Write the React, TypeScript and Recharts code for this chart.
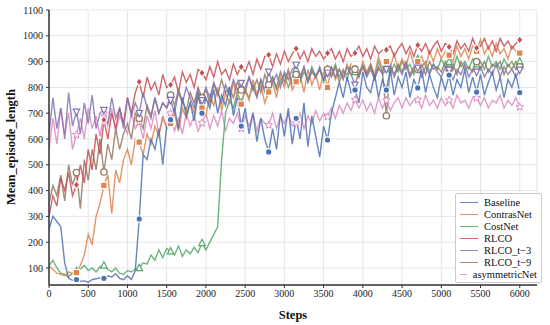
import { LineChart, Line, XAxis, YAxis, CartesianGrid } from 'recharts'

const steps = Array.from({ length: 121 }, (_, i) => i * 50)
const xTicks = [0, 500, 1000, 1500, 2000, 2500, 3000, 3500, 4000, 4500, 5000, 5500, 6000]
const yTicks = [100, 200, 300, 400, 500, 600, 700, 800, 900, 1000, 1100]
const markSteps = [350, 700, 1150, 1550, 1950, 2450, 2800, 3150, 3550, 3900, 4300, 4700, 5100, 5450, 6000]

const baseline = [
  250, 300, 280, 260, 120, 60, 52, 55, 48, 50,
  45, 55, 58, 62, 60, 70, 65, 78, 60, 55,
  70, 55, 90, 290, 540, 520, 600, 560, 640, 500,
  650, 675, 720, 640, 760, 690, 740, 670, 780, 700,
  760, 720, 790, 700, 770, 730, 800, 690, 760, 650,
  720, 620, 700, 590, 680, 600, 550, 640, 560, 700,
  610, 720, 580, 680, 600, 740, 570, 690, 610, 530,
  650, 596, 700, 760, 820, 760, 840, 780, 790, 740,
  860, 800, 780, 850, 760, 830, 790, 870, 770, 840,
  800, 860, 760, 830, 798, 870, 780, 850, 800, 760,
  840, 790, 848, 770, 830, 800, 870, 780, 840, 782,
  850, 770, 820, 860, 790, 840, 760, 830, 800, 850,
  780,
]
const contrasNet = [
  110, 95, 80, 75, 70, 85, 78, 82, 110, 150,
  230, 190, 300, 350, 420, 460, 310, 480, 430, 520,
  560, 500, 600, 588, 540, 620, 580, 650, 610, 690,
  640, 660, 700, 630, 720, 680, 740, 700, 760, 720,
  690, 770, 730, 800, 710, 780, 740, 820, 760, 735,
  790, 750, 830, 770, 810, 740, 782, 820, 760, 840,
  800, 860, 790, 822, 850, 780, 870, 810, 850, 790,
  860, 800, 880, 830, 870, 840, 890, 850, 875, 840,
  900, 860, 890, 850, 920, 870, 900, 880, 930, 870,
  910, 880, 940, 890, 900, 920, 880, 940, 900, 950,
  910, 940, 925, 900, 960, 920, 950, 910, 960, 940,
  985, 930, 960, 920, 970, 930, 950, 910, 960, 940,
  933,
]
const costNet = [
  110, 130, 100, 80, 75, 65, 80, 88, 95, 110,
  90, 100, 85, 105, 110, 95, 85, 100, 80, 75,
  90, 85, 95, 100, 120, 115, 150, 130, 170, 140,
  175, 165, 150, 185, 145, 170, 155, 180, 160, 197,
  170, 200, 230, 260, 520, 700, 750, 720, 780, 740,
  790, 760, 810, 770, 830, 780, 800, 840, 790, 820,
  850, 800, 840, 870, 820, 860, 830, 880, 840, 870,
  820, 870, 850, 890, 840, 870, 830, 880, 860, 850,
  890, 850, 880, 840, 900, 860, 880, 850, 890, 860,
  900, 870, 890, 850, 910, 880, 900, 860, 890, 870,
  910, 880, 900, 870, 920, 880, 900, 870, 910, 890,
  900, 870, 920, 880, 900, 870, 910, 880, 900, 870,
  900,
]
const rlco = [
  300, 380, 340, 450, 400, 470, 380, 422, 500, 430,
  560, 480, 620, 540, 674, 600, 700, 640, 720, 660,
  760, 700, 780, 821, 760, 840, 790, 820, 770, 850,
  800, 810, 840, 780, 860, 820, 850, 800, 870, 856,
  830, 880, 840, 900, 850, 870, 830, 890, 850, 880,
  860, 900, 850, 910, 870, 920, 926, 880, 930, 890,
  940, 900, 930, 950, 910, 940, 900, 950, 920, 940,
  910, 933, 950, 910, 940, 900, 950, 920, 933, 960,
  920, 950, 910, 960, 930, 945, 945, 960, 920, 950,
  970, 930, 960, 920, 964, 940, 970, 930, 960, 980,
  940, 970, 957, 930, 980, 950, 970, 940, 990, 953,
  960, 990, 950, 980, 940, 990, 960, 980, 950, 970,
  984,
]
const rlcoT3 = [
  620, 760, 640, 720, 600, 780, 650, 705, 620, 740,
  660, 770, 640, 700, 712, 660, 760, 680, 720, 640,
  760, 690, 740, 700, 780, 720, 680, 760, 700, 740,
  720, 751, 700, 780, 740, 800, 760, 720, 790, 750,
  800, 760, 820, 780, 740, 810, 770, 830, 790, 817,
  780, 840, 800, 760, 830, 790, 860, 820, 850, 800,
  860, 830, 870, 887, 840, 880, 820, 870, 840, 880,
  830, 856, 880, 840, 870, 830, 880, 850, 810, 860,
  880, 840, 870, 830, 880, 850, 870, 890, 840, 880,
  850, 890, 840, 870, 876, 840, 880, 850, 890, 860,
  840, 880, 868, 830, 870, 850, 890, 840, 870, 860,
  880, 840, 870, 850, 890, 840, 880, 850, 870, 840,
  868,
]
const rlcoT9 = [
  350, 420, 380, 460, 360, 500, 420, 470, 330, 520,
  440, 560, 480, 600, 472, 580, 520, 640, 560, 620,
  660, 600, 700, 680, 640, 730, 690, 760, 700, 740,
  720, 770, 730, 790, 750, 710, 780, 740, 800, 760,
  790, 740, 810, 770, 830, 780, 800, 760, 820, 790,
  800, 840, 790, 830, 780, 850, 810, 840, 800, 860,
  820, 870, 810, 850, 830, 880, 820, 860, 840, 870,
  830, 870, 840, 880, 820, 860, 850, 890, 870, 840,
  880, 850, 890, 840, 870, 860, 690, 880, 850, 890,
  860, 900, 850, 880, 870, 890, 850, 900, 870, 880,
  860, 900, 870, 890, 850, 900, 870, 880, 860, 900,
  870, 900, 860, 890, 880, 900, 850, 890, 870, 900,
  880,
]
const asymmetricNet = [
  560, 680, 580, 720, 620, 700, 560, 616, 680, 600,
  720, 640, 690, 610, 700, 650, 720, 630, 690, 660,
  620, 700, 640, 666, 600, 690, 640, 710, 620, 680,
  650, 700, 630, 680, 620, 700, 650, 690, 630, 662,
  700, 640, 690, 650, 710, 630, 680, 660, 700, 640,
  690, 650, 700, 630, 680, 660, 654, 700, 640, 690,
  660, 700, 650, 662, 700, 640, 690, 660, 710, 670,
  700, 686, 720, 680, 730, 700, 740, 710, 752, 720,
  750, 710, 740, 700, 760, 720, 750, 710, 740, 760,
  720, 760, 730, 750, 752, 720, 770, 730, 750, 720,
  760, 730, 750, 720, 770, 740, 750, 720, 760, 759,
  730, 760, 720, 750, 740, 770, 720, 750, 730, 760,
  724,
]

const series = [
  { key: 'Baseline', values: baseline, color: '#4c72b0', mark: 'circle' },
  { key: 'ContrasNet', values: contrasNet, color: '#dd8452', mark: 'square' },
  { key: 'CostNet', values: costNet, color: '#55a868', mark: 'triangle' },
  { key: 'RLCO', values: rlco, color: '#c44e52', mark: 'diamond' },
  { key: 'RLCO_t\u22123', values: rlcoT3, color: '#8172b3', mark: 'down' },
  { key: 'RLCO_t\u22129', values: rlcoT9, color: '#937860', mark: 'ring' },
  { key: 'asymmetricNet', values: asymmetricNet, color: '#da8bc3', mark: 'star' },
]
const drawOrder = [6, 2, 1, 5, 3, 4, 0]

const data = steps.map((step, i) => {
  const row: Record<string, number> = { step }
  series.forEach((s) => { row[s.key] = s.values[i] })
  return row
})

const font = 'Liberation Serif'

function starPoints(cx: number, cy: number, r: number) {
  const pts = []
  for (let k = 0; k < 10; k++) {
    const rad = k % 2 === 0 ? r : r * 0.45
    const a = -Math.PI / 2 + (k * Math.PI) / 5
    pts.push(`${cx + rad * Math.cos(a)},${cy + rad * Math.sin(a)}`)
  }
  return pts.join(' ')
}

function makeDot(mark: string, color: string) {
  return (props: any) => {
    const { cx, cy, index } = props
    const k = `${mark}-${index}`
    if (cx == null || cy == null || !markSteps.includes(steps[index])) return <g key={k} />
    const r = 3.2
    switch (mark) {
      case 'circle':
        return <circle key={k} cx={cx} cy={cy} r={r} fill={color} stroke="#fff" strokeWidth={1.2} />
      case 'square':
        return <rect key={k} x={cx - r} y={cy - r} width={r * 2} height={r * 2} fill={color} stroke="#fff" strokeWidth={1.2} />
      case 'triangle':
        return <polygon key={k} points={`${cx},${cy - r - 0.5} ${cx + r},${cy + r - 0.5} ${cx - r},${cy + r - 0.5}`} fill="#fff" stroke={color} strokeWidth={1.2} />
      case 'diamond':
        return <polygon key={k} points={`${cx},${cy - r - 0.8} ${cx + r},${cy} ${cx},${cy + r + 0.8} ${cx - r},${cy}`} fill={color} stroke="#fff" strokeWidth={1.2} />
      case 'down':
        return <polygon key={k} points={`${cx},${cy + r + 0.5} ${cx + r},${cy - r + 0.5} ${cx - r},${cy - r + 0.5}`} fill="#fff" stroke={color} strokeWidth={1.2} />
      case 'ring':
        return <circle key={k} cx={cx} cy={cy} r={r} fill="#fff" stroke={color} strokeWidth={1.3} />
      default:
        return <polygon key={k} points={starPoints(cx, cy, r + 0.8)} fill="#fff" stroke={color} strokeWidth={1} />
    }
  }
}

function LegendBox() {
  return (
    <div style={{ position: 'absolute', left: 455, top: 193, width: 87, boxSizing: 'border-box', background: '#fff', border: '1px solid #cccccc', borderRadius: 2, padding: '2px 4px 2px 4px', fontFamily: font, fontSize: 10.5, color: '#111' }}>
      {series.map((s) => (
        <div key={s.key} style={{ display: 'flex', alignItems: 'center', height: 12, whiteSpace: 'nowrap' }}>
          <span style={{ display: 'inline-block', width: 18, height: 0, borderTop: `1.3px solid ${s.color}`, opacity: 0.85, marginRight: 6 }} />
          <span>{s.key}</span>
        </div>
      ))}
    </div>
  )
}

export default function App() {
  return (
    <div style={{ position: 'absolute', left: 0, top: 0, width: 550, height: 325, background: '#fff', fontFamily: font }}>
      <LineChart width={550} height={325} data={data} margin={{ top: 10, right: 13, bottom: 0, left: 0 }} style={{ fontFamily: font }}>
        <CartesianGrid stroke="#e6e6e6" strokeWidth={1} />
        <XAxis
          dataKey="step"
          type="number"
          domain={[0, 6220]}
          ticks={xTicks}
          allowDataOverflow
          height={40}
          tickSize={3}
          tickMargin={2}
          tick={{ fontFamily: font, fontSize: 10, fill: '#222' }}
          axisLine={{ stroke: '#333', strokeWidth: 1.5 }}
          tickLine={{ stroke: '#333' }}
          label={{ value: 'Steps', position: 'insideBottom', offset: 6, style: { fontFamily: font, fontSize: 12.5, fontWeight: 'bold', fill: '#111' } }}
        />
        <YAxis
          type="number"
          domain={[34, 1100]}
          ticks={yTicks}
          allowDataOverflow
          width={49}
          tickSize={3}
          tickMargin={3}
          tick={{ fontFamily: font, fontSize: 10, fill: '#222' }}
          axisLine={{ stroke: '#333', strokeWidth: 1.5 }}
          tickLine={{ stroke: '#333' }}
          label={{
            content: () => (
              <text x={11} y={147} transform="rotate(-90 11 147)" textAnchor="middle" dominantBaseline="central" fontFamily={font} fontSize={12.5} fontWeight="bold" fill="#111">
                Mean_episode_length
              </text>
            ),
          }}
        />
        {drawOrder.map((i) => {
          const s = series[i]
          return (
            <Line
              key={s.key}
              dataKey={s.key}
              type="linear"
              stroke={s.color}
              strokeOpacity={0.85}
              strokeWidth={1.4}
              dot={makeDot(s.mark, s.color)}
              activeDot={false}
              isAnimationActive={false}
            />
          )
        })}
      </LineChart>
      <LegendBox />
    </div>
  )
}
